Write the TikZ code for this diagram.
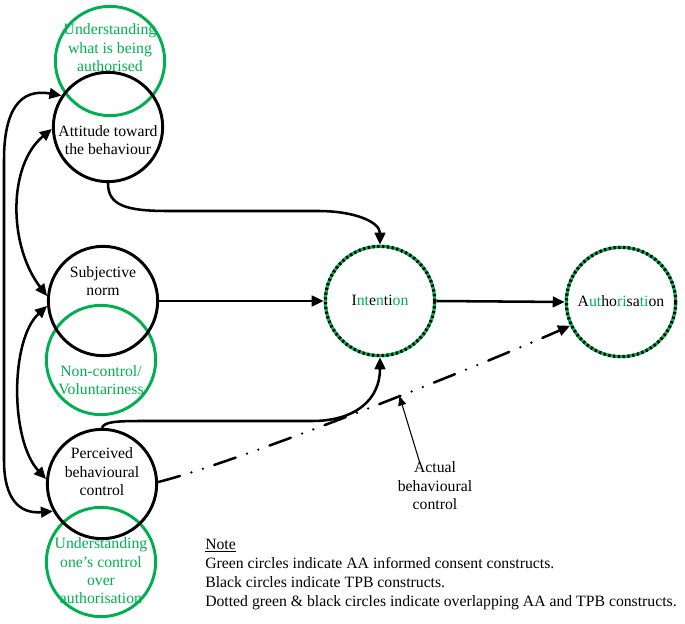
\documentclass[tikz,border=0pt]{standalone}
\usepackage{fontspec}
\setmainfont{Liberation Serif}
\usepackage{xcolor}
\usetikzlibrary{arrows.meta}
\definecolor{aagreen}{RGB}{0,176,80}

\begin{document}
\begin{tikzpicture}[x=0.75pt,y=0.75pt,yscale=-1,xscale=1,
  tpb/.style={circle,draw=black,line width=2.2pt,inner sep=0pt,minimum size=82pt},
  aa/.style={circle,draw=aagreen,line width=2.2pt,inner sep=0pt,minimum size=82pt},
  both/.style={circle,draw=black,line width=2.4pt,inner sep=0pt,minimum size=82pt,dash pattern=on 1.6pt off 2pt,preaction={draw=aagreen,solid}},
  lbl/.style={inner sep=0pt,align=center,font=\fontsize{11.8}{13.8}\selectfont},
  link/.style={line width=1.9pt,-{Triangle[length=9pt,width=8pt]}},
  link2/.style={line width=1.9pt,{Triangle[length=9pt,width=8pt]}-{Triangle[length=9pt,width=8pt]}},
  dashdot/.style={line width=1.9pt,line cap=round,dash pattern=on 17pt off 9pt on 0pt off 9pt on 0pt off 9pt,-{Triangle[length=9pt,width=8pt]}}
]
\useasboundingbox (0,0) rectangle (685,624);

%Shape: Circle (AA constructs)
\node [aa] (und) at (110,61) {};
\node [aa] (vol) at (101,360) {};
\node [aa] (ctl) at (101,562) {};
%Shape: Circle (TPB constructs)
\node [tpb] (att) at (108,127) {};
\node [tpb] (sub) at (103,301) {};
\node [tpb] (pbc) at (102,484) {};
%Shape: Circle (overlapping)
\node [both] (int) at (380,301) {};
\node [both] (aut) at (621,302) {};

% Text Node
\node [lbl,text=aagreen] (undtxt) at (110,48) {Understanding\\what is being\\authorised};
% Text Node
\node [lbl] (atttxt) at (108,140) {Attitude toward\\the behaviour};
% Text Node
\node [lbl] (subtxt) at (103,281) {Subjective\\norm};
% Text Node
\node [lbl,text=aagreen] (voltxt) at (101,380) {Non-control/\\Voluntariness};
% Text Node
\node [lbl] (pbctxt) at (102,472) {Perceived\\behavioural\\control};
% Text Node
\node [lbl,text=aagreen] (ctltxt) at (101,571) {Understanding\\one's control\\over\\authorisation};
% Text Node
\node [lbl] (inttxt) at (380,300) {I{\color{aagreen}nt}e{\color{aagreen}n}ti{\color{aagreen}on}};
% Text Node
\node [lbl] (auttxt) at (621,301) {A{\color{aagreen}ut}ho{\color{aagreen}ri}sa{\color{aagreen}ti}on};
% Text Node
\node [lbl] (acb) at (435,486) {Actual\\behavioural\\control};
% Text Node
\node [lbl,anchor=north west,align=left,font=\fontsize{11.8}{14.3}\selectfont] (note) at (205,539)
  {\underline{Note}\\
   Green circles indicate AA informed consent constructs.\\
   Black circles indicate TPB constructs.\\
   Dotted green \& black circles indicate overlapping AA and TPB constructs.};

%Curve Lines (correlations)
\draw [link2] (att.146) .. controls (20,88) and (4,110) .. (4,160) -- (4,460) .. controls (4,500) and (20,514) .. (pbc.209);
\draw [link2] (att.182) .. controls (8,165) and (8,245) .. (sub.175);
\draw [link2] (sub.185) .. controls (10,340) and (10,440) .. (pbc.175);

%Curve Lines (to intention)
\draw [link] (att.south) .. controls (108,205) and (125,211) .. (168,211) -- (318,211) .. controls (355,211) and (380,222) .. (int.north);
\draw [link] (sub.east) -- (int.west);
\draw [link] (pbc.north) .. controls (104,422) and (115,421) .. (142,421) -- (312,421) .. controls (355,421) and (380,400) .. (int.south);

%Straight Lines
\draw [link] (int.east) -- (aut.west);
\draw [dashdot] (pbc.2) .. controls +(80,-20) and +(-90,40) .. coordinate[pos=0.58] (hit) (aut.205);
\draw [line width=0.8pt,-{Triangle[length=7pt,width=6pt]}] ([xshift=-11pt,yshift=2pt]acb.north) -- (hit);

\end{tikzpicture}
\end{document}
